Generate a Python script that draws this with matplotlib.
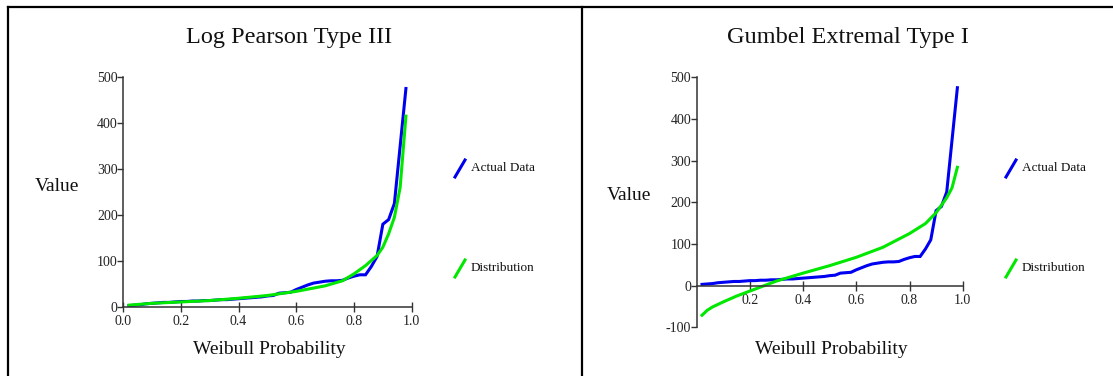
import matplotlib
matplotlib.use("Agg")
import matplotlib.pyplot as plt
from matplotlib.lines import Line2D

plt.rcParams['font.family'] = ['Liberation Serif', 'DejaVu Serif']
plt.rcParams['axes.unicode_minus'] = False

# weibull probabilities i/(n+1), n = 49
weibull_p = [0.02, 0.04, 0.06, 0.08, 0.10, 0.12, 0.14, 0.16, 0.18, 0.20,
             0.22, 0.24, 0.26, 0.28, 0.30, 0.32, 0.34, 0.36, 0.38, 0.40,
             0.42, 0.44, 0.46, 0.48, 0.50, 0.52, 0.54, 0.56, 0.58, 0.60,
             0.62, 0.64, 0.66, 0.68, 0.70, 0.72, 0.74, 0.76, 0.78, 0.80,
             0.82, 0.84, 0.86, 0.88, 0.90, 0.92, 0.94, 0.96, 0.98]
actual = [3, 4, 5, 7, 8, 9, 10, 10, 11, 12,
          12, 13, 13, 14, 14, 15, 16, 16, 17, 18,
          19, 20, 21, 22, 24, 25, 30, 31, 32, 38,
          43, 48, 52, 54, 56, 57, 57, 58, 63, 67,
          70, 70, 88, 110, 180, 190, 225, 350, 475]

# fitted curves
lp_p = [0.02, 0.1, 0.2, 0.3, 0.4, 0.5, 0.6, 0.7, 0.76, 0.8, 0.84, 0.88,
        0.9, 0.92, 0.94, 0.96, 0.98]
lp_val = [4, 8, 11, 14, 19, 25, 34, 46, 57, 72, 90, 112,
          130, 159, 195, 260, 415]

gu_p = [0.02, 0.04, 0.06, 0.1, 0.15, 0.2, 0.3, 0.4, 0.5, 0.6, 0.7, 0.8,
        0.86, 0.9, 0.94, 0.96, 0.98]
gu_val = [-71, -59, -51, -39, -25, -13, 11, 30, 48, 68, 92, 125,
          149, 175, 211, 235, 284]

W, H = 1113, 376
fig = plt.figure(figsize=(W / 100, H / 100), dpi=100)

def px(x0, y0, x1, y1):
    # pixel box (left, top, right, bottom) -> figure rect
    return [x0 / W, 1 - y1 / H, (x1 - x0) / W, (y1 - y0) / H]

def style_axes(ax, xticks, xlabels, yticks):
    for s in ['top', 'right']:
        ax.spines[s].set_visible(False)
    ax.spines['left'].set_position(('data', 0))
    ax.spines['bottom'].set_position(('data', 0))
    for s in ['left', 'bottom']:
        ax.spines[s].set_color('#333333')
        ax.spines[s].set_linewidth(1.1)
    ax.set_xticks(xticks)
    ax.set_xticklabels(xlabels)
    ax.set_yticks(yticks)
    ax.tick_params(axis='x', direction='inout', length=7, width=1,
                   color='#333333', labelsize=10, labelcolor='#222222', pad=2.5)
    ax.tick_params(axis='y', direction='out', length=4, width=1,
                   color='#333333', labelsize=10, labelcolor='#222222', pad=0)

blue = '#0000f0'
green = '#00e800'

# ---- left: Log Pearson Type III
ax1 = fig.add_axes(px(123.2, 77, 411.7, 307))
ax1.plot(weibull_p, actual, color=blue, lw=2.2, solid_joinstyle='miter')
ax1.plot(lp_p, lp_val, color=green, lw=2.2)
ax1.set_xlim(0, 1)
ax1.set_ylim(0, 500)
style_axes(ax1, [0, 0.2, 0.4, 0.6, 0.8, 1.0],
           ['0.0', '0.2', '0.4', '0.6', '0.8', '1.0'],
           [0, 100, 200, 300, 400, 500])

# ---- right: Gumbel Extremal Type I
ax2 = fig.add_axes(px(696.7, 77.3, 962.7, 327.3))
ax2.plot(weibull_p, actual, color=blue, lw=2.2, solid_joinstyle='miter')
ax2.plot(gu_p, gu_val, color=green, lw=2.2)
ax2.set_xlim(0, 1)
ax2.set_ylim(-100, 500)
style_axes(ax2, [0.2, 0.4, 0.6, 0.8, 1.0],
           ['0.2', '0.4', '0.6', '0.8', '1.0'],
           [-100, 0, 100, 200, 300, 400, 500])

# titles and axis labels
def ftxt(x, y, s, size, ha='center'):
    fig.text(x / W, 1 - y / H, s, fontsize=size, ha=ha, va='center',
             color='#111111')

ftxt(289, 37, 'Log Pearson Type III', 17.5)
ftxt(848, 37, 'Gumbel Extremal Type I', 17.5)
ftxt(57, 186, 'Value', 14)
ftxt(629, 196, 'Value', 14)
ftxt(269, 350, 'Weibull Probability', 14)
ftxt(831, 350, 'Weibull Probability', 14)

# legends
for lx in [455, 1006]:
    for (ly, col, lab) in [(168, blue, 'Actual Data'), (268, green, 'Distribution')]:
        fig.add_artist(Line2D([lx / W, (lx + 10) / W],
                              [1 - (ly + 9) / H, 1 - (ly - 8) / H],
                              color=col, lw=2.2, transform=fig.transFigure))
        ftxt(lx + 16, ly, lab, 9.5, ha='left')

# page frame
frame = dict(color='black', lw=1.6, transform=fig.transFigure)
fig.add_artist(Line2D([8 / W, 1], [1 - 7 / H, 1 - 7 / H], **frame))
fig.add_artist(Line2D([8 / W, 8 / W], [0, 1 - 7 / H], **frame))
fig.add_artist(Line2D([582 / W, 582 / W], [0, 1 - 7 / H], **frame))

fig.savefig('out.png', dpi=100)
